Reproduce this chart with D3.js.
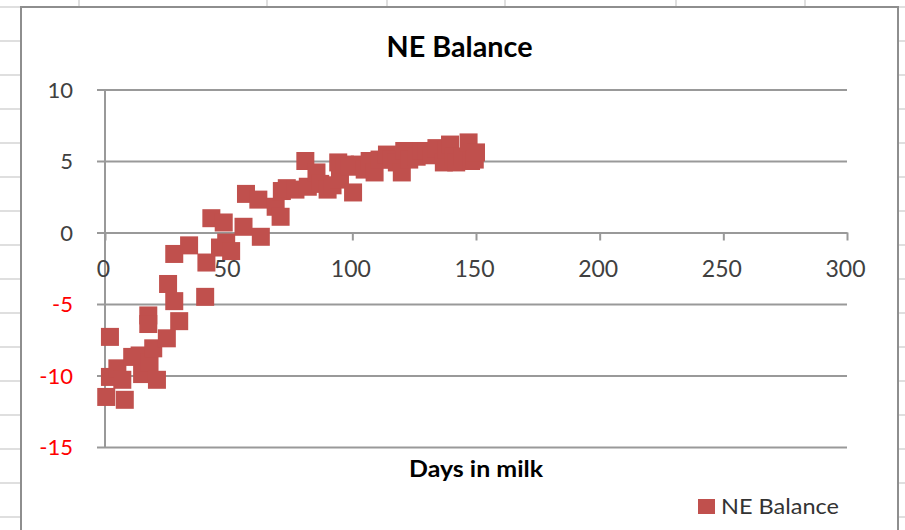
<!DOCTYPE html>
<html>
<head>
<meta charset="utf-8">
<script src="https://cdn.jsdelivr.net/npm/d3@7"></script>
<style>
  html, body { margin: 0; padding: 0; background: #fff; }
  svg { display: block; font-family: Lato, "Open Sans", sans-serif; }
</style>
</head>
<body>
<svg id="chart" width="905" height="530"></svg>
<script>
// Days in milk for each observation
const days = [
  0.5, 2, 2, 5, 7, 8, 11, 14, 15, 17.5, 17.5, 18, 19.5, 21, 25, 25.5,
  28, 28, 30, 34, 40.5, 41, 43, 46.5, 48, 49, 51, 56, 57, 62, 63,
  69, 71, 71.5, 73.5, 77, 81, 82, 85.5, 87, 90, 92, 94.3, 95, 97, 99, 100.3,
  103, 105, 107, 109, 111, 114, 116, 118, 120, 121, 123, 126, 128, 130, 132,
  134, 137, 138, 139.5, 141, 142, 144.5, 147, 148, 149.5, 150
];
// Net energy balance matching each day above
const neBalance = [
  -11.5, -7.3, -10.1, -9.5, -10.3, -11.7, -8.7, -8.6, -9.9, -5.8, -6.4, -9.1, -8.1, -10.3, -7.4, -3.6,
  -1.5, -4.8, -6.2, -0.9, -4.5, -2.1, 1.0, -1.05, 0.7, -0.7, -1.3, 0.4, 2.7, 2.3, -0.3,
  1.8, 1.1, 2.9, 3.1, 3.0, 5.0, 3.2, 4.2, 3.4, 3.0, 3.3, 4.9, 3.7, 4.75, 4.6, 2.8,
  4.75, 4.4, 5.0, 4.2, 5.1, 5.45, 5.1, 4.9, 4.2, 5.7, 5.1, 5.3, 5.7, 5.7, 5.4,
  5.9, 4.9, 5.8, 6.15, 5.3, 4.9, 5.3, 6.3, 5.0, 5.1, 5.6
];
const xTicks = [0, 50, 100, 150, 200, 250, 300];
const yTicks = [-15, -10, -5, 0, 5, 10];
const chartTitle = "NE Balance";
const xTitle = "Days in milk";
const seriesName = "NE Balance";

const W = 905, H = 530;
const font = "Lato, 'Open Sans', sans-serif";
const svg = d3.select("#chart");
svg.append("rect").attr("width", W).attr("height", H).attr("fill", "#fff");

// worksheet cells showing around the embedded chart
const cellLine = "#d4d4d4";
const frame = { x: 21, y: 7, w: 877 };
const sheet = svg.append("g");
for (let y = frame.y; y < H; y += 34) {
  sheet.append("line").attr("x1", 0).attr("x2", frame.x).attr("y1", y).attr("y2", y)
    .attr("stroke", cellLine).attr("stroke-width", 1.5);
  sheet.append("line").attr("x1", frame.x + frame.w).attr("x2", W).attr("y1", y).attr("y2", y)
    .attr("stroke", cellLine).attr("stroke-width", 1.5);
}
[79, 267, 387, 505, 676, 805].forEach(x => {
  sheet.append("line").attr("x1", x).attr("x2", x).attr("y1", 0).attr("y2", frame.y)
    .attr("stroke", cellLine).attr("stroke-width", 1.5);
});

// chart area border
svg.append("rect")
  .attr("x", frame.x).attr("y", frame.y)
  .attr("width", frame.w).attr("height", H + 20)
  .attr("fill", "#fff").attr("stroke", "#8e8e8e").attr("stroke-width", 2);

const x = d3.scaleLinear().domain([0, 300]).range([105, 847]);
const y = d3.scaleLinear().domain([-15, 10]).range([447, 89.5]);

const gridColor = "#999";

// horizontal gridlines with short outside ticks on the left
const yAxis = d3.axisLeft(y).tickValues(yTicks).tickSize(0).tickFormat(d => d);
const gy = svg.append("g").attr("transform", `translate(${x(0)},0)`).call(yAxis);
gy.select(".domain").remove();
gy.selectAll(".tick line").remove();
gy.selectAll(".tick text").remove();
gy.selectAll(".tick").append("line")
  .attr("x1", -8).attr("x2", x(300) - x(0))
  .attr("stroke", gridColor).attr("stroke-width", 2);

// vertical axis line at x = 0
svg.append("line")
  .attr("x1", x(0)).attr("x2", x(0)).attr("y1", y(10)).attr("y2", y(-15))
  .attr("stroke", gridColor).attr("stroke-width", 2);

// horizontal axis crossing at y = 0
const xAxis = d3.axisBottom(x).tickValues(xTicks).tickSize(8).tickSizeOuter(0).tickFormat(d => d);
const gx = svg.append("g").attr("transform", `translate(0,${y(0)})`).call(xAxis);
gx.select(".domain").attr("stroke", gridColor).attr("stroke-width", 2);
gx.selectAll(".tick line").attr("stroke", gridColor).attr("stroke-width", 2);
gx.selectAll(".tick text").remove();

// scatter markers
const pts = days.map((d, i) => ({ d, v: neBalance[i] }));
const ms = 18;
svg.append("g").selectAll("rect").data(pts).join("rect")
  .attr("x", p => x(p.d) - ms / 2)
  .attr("y", p => y(p.v) - ms / 2)
  .attr("width", ms).attr("height", ms)
  .attr("fill", "#c0504d");

// tick labels sit above the markers
const gyl = svg.append("g").attr("transform", `translate(${x(0)},0)`)
  .call(d3.axisLeft(y).tickValues(yTicks).tickSize(0).tickFormat(d => d));
gyl.select(".domain").remove();
gyl.selectAll(".tick line").remove();
gyl.selectAll(".tick text")
  .attr("x", -32)
  .attr("dy", "0.35em")
  .attr("font-size", 22)
  .attr("font-family", font)
  .attr("fill", d => d < 0 ? "#ff0000" : "#404040");

const gxl = svg.append("g").attr("transform", `translate(0,${y(0)})`)
  .call(d3.axisBottom(x).tickValues(xTicks).tickSize(0).tickFormat(d => d));
gxl.select(".domain").remove();
gxl.selectAll(".tick line").remove();
gxl.selectAll(".tick text")
  .attr("y", 36)
  .attr("dy", "0.35em")
  .attr("dx", -2)
  .attr("font-size", 23)
  .attr("font-family", font)
  .attr("fill", "#404040");

// titles
svg.append("text").attr("x", frame.x + frame.w / 2).attr("y", 57)
  .attr("text-anchor", "middle").attr("font-size", 28).attr("font-weight", "bold")
  .attr("textLength", 146).attr("lengthAdjust", "spacingAndGlyphs")
  .attr("fill", "#000").text(chartTitle);
svg.append("text").attr("x", x(150)).attr("y", 477)
  .attr("text-anchor", "middle").attr("font-size", 22).attr("font-weight", "bold")
  .attr("textLength", 134).attr("lengthAdjust", "spacingAndGlyphs")
  .attr("fill", "#000").text(xTitle);

// legend
const lg = svg.append("g");
lg.append("rect").attr("x", 698).attr("y", 499).attr("width", 17).attr("height", 15)
  .attr("fill", "#c0504d");
lg.append("text").attr("x", 721).attr("y", 514).attr("font-size", 21)
  .attr("textLength", 118).attr("lengthAdjust", "spacingAndGlyphs")
  .attr("fill", "#333").text(seriesName);
</script>
</body>
</html>
